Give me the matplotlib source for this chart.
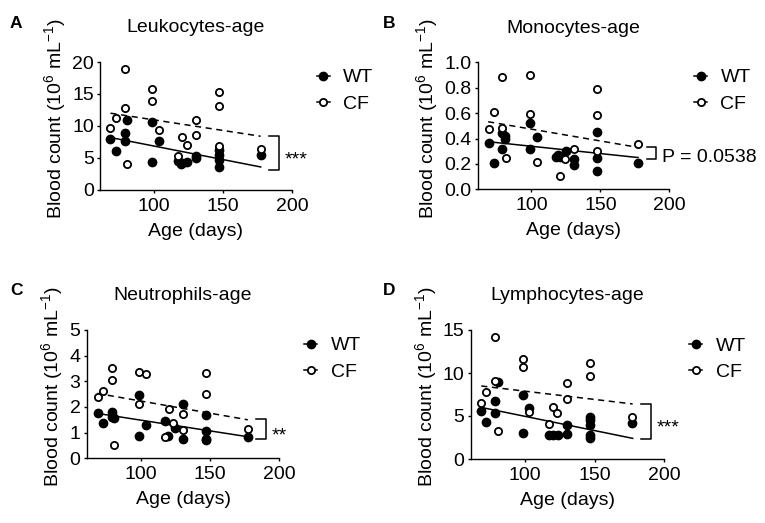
import matplotlib
matplotlib.use('Agg')
import matplotlib.pyplot as plt
from matplotlib.lines import Line2D

plt.rcParams['font.family'] = ['Liberation Sans', 'DejaVu Sans']
plt.rcParams['mathtext.fontset'] = 'custom'
plt.rcParams['mathtext.rm'] = 'Liberation Sans'
plt.rcParams['mathtext.it'] = 'Liberation Sans:italic'
plt.rcParams['mathtext.bf'] = 'Liberation Sans:bold'

# ---------------- data ----------------
titles = ['Leukocytes-age', 'Monocytes-age', 'Neutrophils-age', 'Lymphocytes-age']
letters = ['A', 'B', 'C', 'D']
sig_labels = ['***', 'P = 0.0538', '**', '***']
x_ticks = [100, 150, 200]

# Panel A - Leukocytes
a_wt_age = [68.6, 72.7, 78.8, 78.8, 80.8, 98.6, 98.6, 103.6, 117.5, 119.5, 120.6, 124.0,
            130.7, 130.7, 147, 147, 147, 147, 177.3]
a_wt_val = [7.9, 6.1, 8.85, 7.7, 11.0, 10.6, 4.4, 7.7, 4.6, 4.1, 4.2, 4.45,
            4.95, 5.3, 6.25, 5.5, 4.7, 3.6, 5.5]
a_cf_age = [68.6, 72.7, 78.8, 78.8, 80.8, 98.6, 98.6, 103.6, 117.5, 120.7, 123.7,
            130.7, 130.7, 147, 147, 147, 177.3]
a_cf_val = [9.7, 11.25, 18.95, 12.8, 4.1, 15.8, 13.9, 9.3, 5.3, 8.3, 7.0,
            10.9, 8.6, 15.3, 13.2, 6.9, 6.4]
a_fit_wt = [8.2, 3.6]
a_fit_cf = [12.0, 8.4]
a_bracket = [8.4, 3.2]
a_yticks = [0, 5, 10, 15, 20]

# Panel B - Monocytes
b_wt_age = [69, 73, 78.8, 78.8, 80.7, 80.7, 98.8, 98.8, 103.8, 117.7, 119.6, 121.0, 124.8,
            130.7, 130.7, 147.6, 147.6, 147.6, 177.4]
b_wt_val = [0.362, 0.21, 0.441, 0.317, 0.394, 0.42, 0.525, 0.317, 0.409, 0.257, 0.268, 0.252, 0.30,
            0.236, 0.19, 0.454, 0.249, 0.147, 0.207]
b_cf_age = [69, 73, 78.8, 78.8, 81.2, 98.8, 98.8, 103.8, 120.6, 124.0, 130.7,
            147.6, 147.6, 147.6, 177.4]
b_cf_val = [0.472, 0.611, 0.887, 0.483, 0.249, 0.897, 0.593, 0.217, 0.107, 0.236, 0.317,
            0.787, 0.583, 0.302, 0.359]
b_fit_wt = [0.375, 0.25]
b_fit_cf = [0.532, 0.33]
b_bracket = [0.335, 0.236]
b_yticks = [0.0, 0.2, 0.4, 0.6, 0.8, 1.0]

# Panel C - Neutrophils
c_wt_age = [69, 73, 79.1, 79.1, 81, 98.8, 98.8, 103.8, 117.7, 119.5, 124.7,
            130.7, 130.7, 147.1, 147.1, 147.1, 147.1, 177.6]
c_wt_val = [1.75, 1.36, 1.82, 1.62, 1.56, 2.47, 0.87, 1.30, 1.47, 0.88, 1.17,
            2.11, 0.76, 1.68, 1.05, 0.73, 0.76, 0.84]
c_cf_age = [69, 73, 79.1, 79.1, 81, 98.8, 98.8, 103.8, 117.7, 120.6, 123.5,
            130.7, 130.7, 147.1, 147.1, 177.6]
c_cf_val = [2.40, 2.63, 3.53, 3.05, 0.53, 3.37, 2.10, 3.27, 0.84, 1.91, 1.36,
            1.73, 1.12, 3.31, 2.51, 1.13]
c_fit_wt = [1.75, 0.84]
c_fit_cf = [2.53, 1.5]
c_bracket = [1.52, 0.74]
c_yticks = [0, 1, 2, 3, 4, 5]

# Panel D - Lymphocytes
d_wt_age = [68.3, 72.3, 78.6, 78.6, 80.5, 98.3, 98.3, 103.1, 117, 120.4, 123.8,
            130, 130, 146.9, 146.9, 146.9, 146.9, 146.9, 176.5]
d_wt_val = [5.58, 4.34, 6.78, 5.39, 8.9, 7.44, 3.06, 5.9, 2.79, 2.79, 2.79,
            3.95, 2.95, 4.85, 4.5, 3.95, 2.79, 2.4, 4.22]
d_cf_age = [68.3, 72.3, 78.6, 78.6, 80.5, 98.3, 98.3, 103.1, 117, 120.4, 123.1,
            130, 130, 146.9, 146.9, 176.5]
d_cf_val = [6.47, 7.83, 14.2, 9.1, 3.26, 11.6, 10.7, 5.5, 4.07, 6.08, 5.39,
            8.8, 7.0, 11.2, 9.65, 4.85]
d_fit_wt = [6.0, 2.4]
d_fit_cf = [8.49, 6.4]
d_bracket = [6.4, 2.36]
d_yticks = [0, 5, 10, 15]

fit_ages = [68.6, 177.3]
bracket_ages = [183.5, 190.5]
sig_age = 194.5

# ---------------- layout ----------------
W, H = 765, 523
fig = plt.figure(figsize=(W / 100, H / 100), dpi=100)

# pixel boxes (left, right, top, bottom)
boxes = [(100, 292, 62, 190), (477.7, 669.3, 62.3, 189.3),
         (86.7, 279.3, 330, 458.3), (470.7, 664.3, 330, 459)]
letter_pos = [(10, 28), (383, 28), (10, 295), (383, 295)]

panels = [
    (a_wt_age, a_wt_val, a_cf_age, a_cf_val, a_fit_wt, a_fit_cf, a_bracket, a_yticks, '%d'),
    (b_wt_age, b_wt_val, b_cf_age, b_cf_val, b_fit_wt, b_fit_cf, b_bracket, b_yticks, '%.1f'),
    (c_wt_age, c_wt_val, c_cf_age, c_cf_val, c_fit_wt, c_fit_cf, c_bracket, c_yticks, '%d'),
    (d_wt_age, d_wt_val, d_cf_age, d_cf_val, d_fit_wt, d_fit_cf, d_bracket, d_yticks, '%d'),
]

FS = 14
lw = 1.1
ylabel_text = r'Blood count (10$^{6}$ mL$^{-1}$)'
for i, (box, p) in enumerate(zip(boxes, panels)):
    L, R, T, B = box
    ax = fig.add_axes([L / W, 1 - B / H, (R - L) / W, (B - T) / H])
    wt_age, wt_val, cf_age, cf_val, fit_wt, fit_cf, br, yt, fmt = p

    ax.plot(fit_ages, fit_wt, color='black', lw=lw, zorder=2)
    ax.plot(fit_ages, fit_cf, color='black', lw=lw, ls=(0, (4, 3)), zorder=2)
    ax.plot(wt_age, wt_val, 'o', ms=6, mfc='black', mec='black', mew=1.0, ls='none',
            zorder=3, clip_on=False)
    ax.plot(cf_age, cf_val, 'o', ms=5.2, mfc='white', mec='black', mew=1.3, ls='none',
            zorder=4, clip_on=False)

    # bracket
    bx = [bracket_ages[0], bracket_ages[1], bracket_ages[1], bracket_ages[0]]
    by = [br[0], br[0], br[1], br[1]]
    ax.plot(bx, by, color='black', lw=lw, clip_on=False)
    mid = (br[0] + br[1]) / 2
    if sig_labels[i].startswith('P'):
        ax.text(sig_age, mid - (br[0] - br[1]) * 0.35, sig_labels[i], fontsize=FS,
                ha='left', va='center', clip_on=False)
    else:
        ax.annotate(sig_labels[i], xy=(sig_age, mid), xytext=(0, -8),
                    textcoords='offset points', fontsize=FS, ha='left',
                    va='baseline', annotation_clip=False)

    ax.set_xlim(61, 200)
    ax.set_ylim(yt[0], yt[-1])
    ax.set_xticks(x_ticks)
    ax.set_yticks(yt)
    ax.set_yticklabels([fmt % v for v in yt])
    for s in ['top', 'right']:
        ax.spines[s].set_visible(False)
    for s in ['left', 'bottom']:
        ax.spines[s].set_linewidth(1.0)
    ax.tick_params(axis='both', labelsize=FS, width=1.0, length=2.5, direction='out')
    ax.tick_params(axis='x', pad=3)
    ax.tick_params(axis='y', pad=2)
    ax.set_xlabel('Age (days)', fontsize=FS, labelpad=6)
    ax.set_ylabel(ylabel_text, fontsize=FS, labelpad=3)
    ax.yaxis.label.set_y(0.56)
    ax.text(0.5, 1.234, titles[i], transform=ax.transAxes, ha='center',
            va='baseline', fontsize=FS)

    handles = [Line2D([0], [0], color='black', lw=lw, marker='o', ms=6, mfc='black'),
               Line2D([0], [0], color='black', lw=lw, marker='o', ms=5.2, mfc='white', mew=1.3)]
    ax.legend(handles, ['WT', 'CF'], loc='center left', bbox_to_anchor=(1.13, 0.775),
              frameon=False, fontsize=FS, handlelength=0.65, handletextpad=0.7,
              labelspacing=0.45, borderpad=0, borderaxespad=0)

    lx, ly = letter_pos[i]
    fig.text(lx / W, 1 - ly / H, letters[i], fontsize=12.5, fontweight='bold',
             ha='left', va='baseline')

fig.savefig('out.png', dpi=100)
